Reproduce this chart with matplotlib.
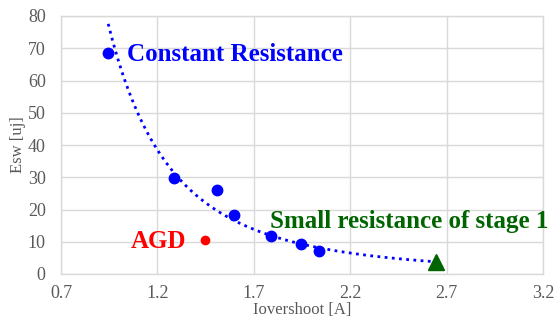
import numpy as np
import matplotlib
matplotlib.use("Agg")
import matplotlib.pyplot as plt

# Constant-resistance sweep
cr_x = [0.945, 1.287, 1.508, 1.598, 1.788, 1.947, 2.038]
cr_y = [68.6, 29.7, 26.0, 18.3, 11.9, 9.2, 7.1]
# Small resistance of stage 1
sr_x = [2.647]
sr_y = [3.6]
# AGD
agd_x = [1.448]
agd_y = [10.4]

xticks = [0.7, 1.2, 1.7, 2.2, 2.7, 3.2]
yticks = [0, 10, 20, 30, 40, 50, 60, 70, 80]

plt.rcParams["font.family"] = ["Liberation Serif", "DejaVu Serif"]

fig = plt.figure(figsize=(5.59, 3.22), dpi=100)
ax = fig.add_axes([61 / 559, 1 - 274 / 322, (543 - 61) / 559, (274 - 16) / 322])

# power trendline through the resistance series
fx = np.array(cr_x + sr_x)
fy = np.array(cr_y + sr_y)
b, loga = np.polyfit(np.log(fx), np.log(fy), 1)
tx = np.linspace(fx.min(), fx.max(), 200)
ty = np.exp(loga) * tx ** b
ax.plot(tx, ty, color="#0000FF", linestyle=(0, (1, 1.6)), linewidth=2.0, zorder=2)

ax.plot(cr_x, cr_y, "o", color="#0000FF", markersize=7.5, zorder=3)
ax.plot(sr_x, sr_y, "^", color="#006400", markersize=11, zorder=3)
ax.plot(agd_x, agd_y, "o", color="#FF0000", markersize=6, zorder=3)

ax.text(1.04, 68.0, "Constant Resistance", color="#0000FF", fontsize=18,
        fontweight="bold", va="center", ha="left")
ax.text(1.786, 16.4, "Small resistance of stage 1", color="#006400", fontsize=18,
        fontweight="bold", va="center", ha="left")
ax.text(1.06, 10.0, "AGD", color="#FF0000", fontsize=18,
        fontweight="bold", va="center", ha="left")

ax.set_xlim(0.7, 3.2)
ax.set_ylim(0, 80)
ax.set_xticks(xticks)
ax.set_xticklabels([f"{v:.1f}" for v in xticks])
ax.set_yticks(yticks)
ax.grid(True, color="#d9d9d9", linewidth=1.0, zorder=0)
ax.set_axisbelow(True)
for s in ax.spines.values():
    s.set_color("#d9d9d9")
    s.set_linewidth(1.0)
ax.tick_params(axis="y", length=0, labelsize=13, labelcolor="#595959", pad=11)
ax.tick_params(axis="x", length=0, labelsize=13, labelcolor="#595959", pad=8)
ax.set_xlabel("Iovershoot [A]", fontsize=12, color="#595959", labelpad=0)
ax.set_ylabel("Esw [uj]", fontsize=12, color="#595959", labelpad=1)

fig.savefig("out.png", dpi=100)
